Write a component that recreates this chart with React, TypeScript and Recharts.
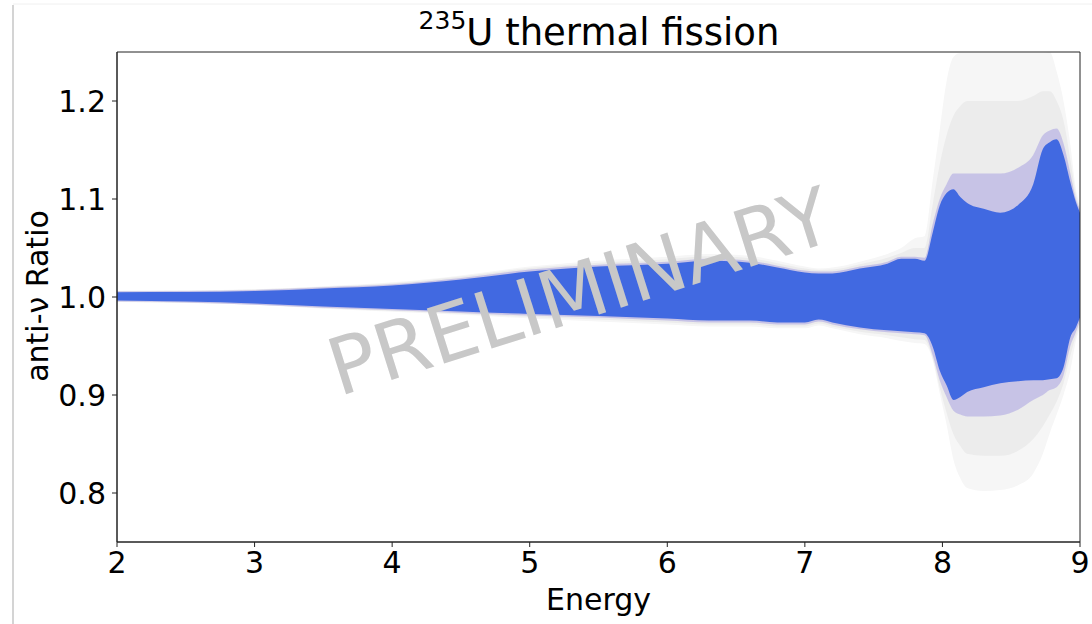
import React from "react";
import { ComposedChart, Area, XAxis, YAxis, ReferenceArea } from "recharts";

const energies = [2, 2.5, 3, 3.5, 4, 4.5, 5, 5.5, 6, 6.3, 6.6, 6.8, 7.0, 7.1, 7.2, 7.4, 7.6, 7.7, 7.8, 7.87, 7.93, 7.98, 8.03, 8.08, 8.13, 8.18, 8.3, 8.42, 8.55, 8.66, 8.73, 8.78, 8.83, 8.88, 8.93, 8.97, 9.0];

const blueHigh = [1.0049, 1.005, 1.006, 1.0087, 1.0117, 1.0178, 1.026, 1.031, 1.034, 1.037, 1.035, 1.03, 1.025, 1.024, 1.024, 1.029, 1.034, 1.039, 1.039, 1.037, 1.066, 1.093, 1.106, 1.11, 1.102, 1.096, 1.09, 1.086, 1.094, 1.115, 1.151, 1.158, 1.161, 1.145, 1.117, 1.097, 1.086];
const blueLow = [0.9964, 0.9954, 0.9934, 0.9903, 0.9878, 0.9852, 0.9827, 0.9807, 0.978, 0.976, 0.976, 0.974, 0.974, 0.977, 0.974, 0.969, 0.966, 0.965, 0.964, 0.963, 0.949, 0.925, 0.91, 0.895, 0.898, 0.903, 0.908, 0.912, 0.914, 0.915, 0.915, 0.916, 0.917, 0.928, 0.959, 0.969, 0.979];

const fringeHigh = [1.0058, 1.006, 1.0072, 1.01, 1.013, 1.0195, 1.028, 1.033, 1.036, 1.039, 1.037, 1.032, 1.027, 1.026, 1.026, 1.031, 1.036, 1.041, 1.041, 1.04, 1.075, 1.1, 1.115, 1.126, 1.126, 1.126, 1.126, 1.126, 1.132, 1.145, 1.165, 1.17, 1.172, 1.157, 1.126, 1.1, 1.09];
const fringeLow = [0.9955, 0.9945, 0.9922, 0.989, 0.9865, 0.9838, 0.981, 0.979, 0.976, 0.974, 0.974, 0.972, 0.972, 0.975, 0.972, 0.967, 0.964, 0.963, 0.962, 0.961, 0.94, 0.915, 0.898, 0.884, 0.88, 0.878, 0.878, 0.879, 0.885, 0.895, 0.9, 0.905, 0.908, 0.92, 0.95, 0.964, 0.976];

const midHigh = [1.006, 1.0063, 1.0076, 1.0105, 1.014, 1.0208, 1.0295, 1.035, 1.0385, 1.0415, 1.0395, 1.0345, 1.029, 1.0275, 1.028, 1.0335, 1.04, 1.045, 1.05, 1.05, 1.095, 1.135, 1.165, 1.185, 1.195, 1.2, 1.2, 1.2, 1.2, 1.205, 1.21, 1.21, 1.2, 1.18, 1.14, 1.105, 1.092];
const midLow = [0.9952, 0.9942, 0.9921, 0.9885, 0.9857, 0.983, 0.9795, 0.977, 0.974, 0.972, 0.972, 0.97, 0.97, 0.973, 0.97, 0.9645, 0.961, 0.959, 0.957, 0.956, 0.937, 0.908, 0.882, 0.86, 0.848, 0.84, 0.838, 0.838, 0.843, 0.855, 0.868, 0.88, 0.893, 0.912, 0.94, 0.96, 0.972];

const greyHigh = [1.0065, 1.0068, 1.008, 1.011, 1.015, 1.022, 1.031, 1.037, 1.041, 1.044, 1.042, 1.037, 1.031, 1.029, 1.03, 1.036, 1.044, 1.05, 1.06, 1.062, 1.12, 1.17, 1.22, 1.245, 1.249, 1.249, 1.249, 1.249, 1.249, 1.249, 1.249, 1.25, 1.23, 1.2, 1.155, 1.11, 1.095];
const greyLow = [0.995, 0.994, 0.992, 0.988, 0.985, 0.982, 0.978, 0.975, 0.972, 0.97, 0.97, 0.968, 0.968, 0.971, 0.968, 0.962, 0.958, 0.955, 0.953, 0.952, 0.935, 0.902, 0.87, 0.834, 0.815, 0.805, 0.802, 0.803, 0.808, 0.82, 0.84, 0.861, 0.88, 0.9, 0.925, 0.955, 0.969];

const xTicks = [2, 3, 4, 5, 6, 7, 8, 9];
const yTicks = [0.8, 0.9, 1.0, 1.1, 1.2];

const data = energies.map((e, i) => ({
  e,
  grey: [greyLow[i], greyHigh[i]],
  mid: [midLow[i], midHigh[i]],
  fringe: [fringeLow[i], fringeHigh[i]],
  blue: [blueLow[i], blueHigh[i]],
}));

const FONT = "DejaVu Sans";

export default function App() {
  return (
    <div style={{ position: "absolute", left: 0, top: 0, width: 1092, height: 624, background: "#fff" }}>
      <ComposedChart
        width={1092}
        height={624}
        data={data}
        margin={{ top: 52, right: 12, bottom: 0, left: 0 }}
      >
        <XAxis
          dataKey="e"
          type="number"
          domain={[2, 9]}
          ticks={xTicks}
          allowDataOverflow
          height={82}
          stroke="#222"
          tickSize={5}
          tickMargin={5}
          tick={{ fill: "#000", fontSize: 30, fontFamily: FONT }}
          tickLine={{ stroke: "#222" }}
        />
        <YAxis
          type="number"
          domain={[0.75, 1.25]}
          ticks={yTicks}
          allowDataOverflow
          width={117}
          stroke="#222"
          tickSize={5}
          tickMargin={6}
          tickFormatter={(v: number) => v.toFixed(1)}
          tick={{ fill: "#000", fontSize: 30, fontFamily: FONT }}
          tickLine={{ stroke: "#222" }}
        />
        <Area dataKey="grey" type="monotone" stroke="none" fill="#f6f6f6" fillOpacity={1} isAnimationActive={false} />
        <Area dataKey="mid" type="monotone" stroke="none" fill="#ececec" fillOpacity={1} isAnimationActive={false} />
        <Area dataKey="fringe" type="monotone" stroke="none" fill="#a9a2e2" fillOpacity={0.55} isAnimationActive={false} />
        <Area dataKey="blue" type="monotone" stroke="none" fill="#4169E1" fillOpacity={1} isAnimationActive={false} />
        <ReferenceArea x1={2} x2={9} y1={0.75} y2={1.25} fill="none" stroke="#222" strokeWidth={1} ifOverflow="visible" />
      </ComposedChart>
      <svg
        width={1092}
        height={624}
        style={{ position: "absolute", left: 0, top: 0, pointerEvents: "none" }}
      >
        <line x1={13} y1={5} x2={13} y2={624} stroke="#d4d4d4" strokeWidth={2} />
        <line x1={13} y1={4} x2={1092} y2={4} stroke="#f0f0f0" strokeWidth={1} />
        <text x={599} y={45} textAnchor="middle" fontFamily={FONT} fill="#000">
          <tspan fontSize={25} dy={-16}>235</tspan>
          <tspan fontSize={37} dy={16}>U thermal fission</tspan>
        </text>
        <text x={598.5} y={610} textAnchor="middle" fontFamily={FONT} fontSize={30} fill="#000">
          Energy
        </text>
        <text
          x={48}
          y={296}
          textAnchor="middle"
          fontFamily={FONT}
          fontSize={30}
          fill="#000"
          transform="rotate(-90, 48, 296)"
        >
          anti-ν Ratio
        </text>
        <text
          x={588}
          y={318}
          textAnchor="middle"
          fontFamily={FONT}
          fontSize={79}
          fill="#c8c8c8"
          transform="rotate(-17.5, 588, 318)"
        >
          PRELIMINARY
        </text>
      </svg>
    </div>
  );
}
